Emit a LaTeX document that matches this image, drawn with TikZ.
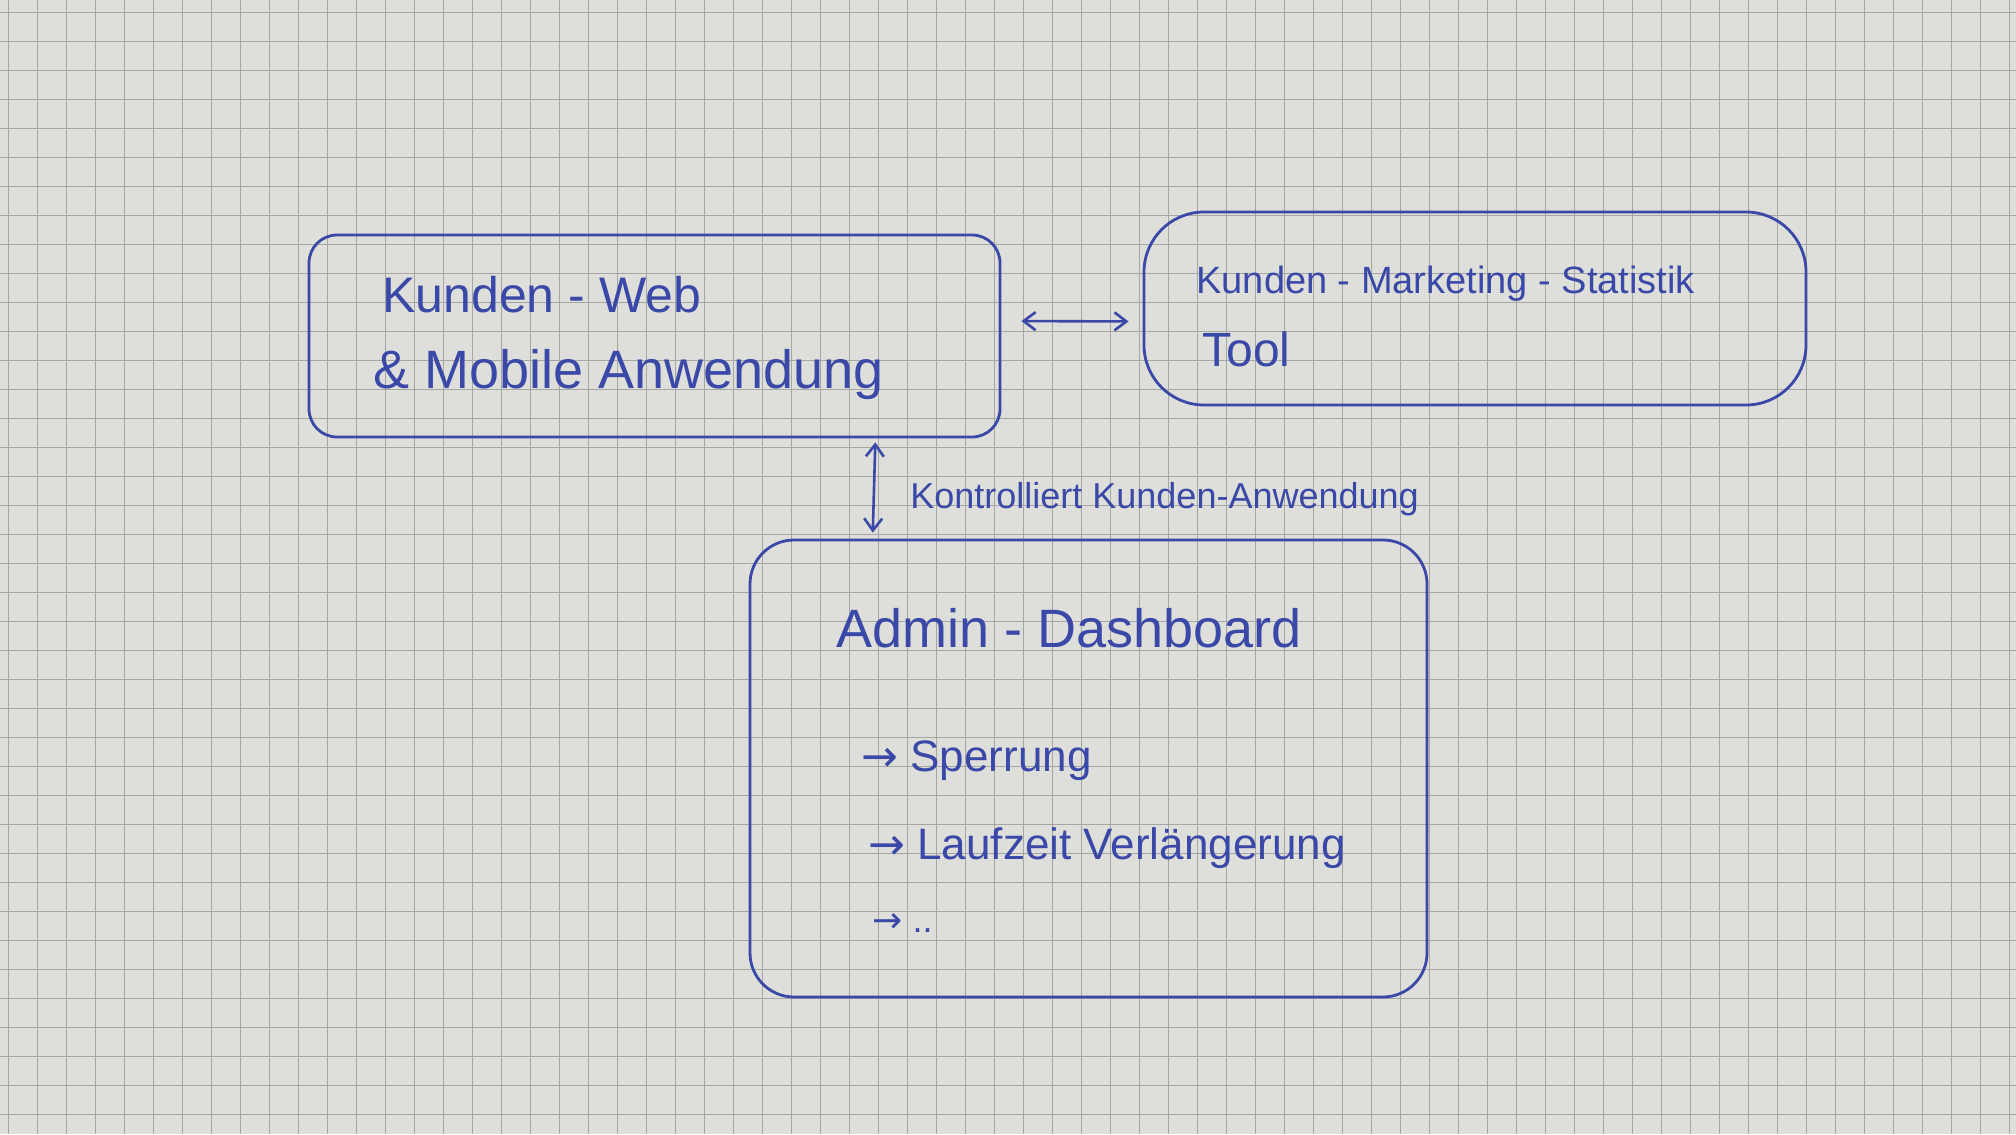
\documentclass[tikz,border=0pt]{standalone}
\usepackage{fontspec}
\setmainfont{Liberation Sans}
\newfontfamily\symfont{DejaVu Sans}
\usetikzlibrary{arrows.meta}
\definecolor{ink}{HTML}{3A48A8}
\definecolor{paper}{HTML}{DEDEDA}
\definecolor{gridc}{HTML}{A6A6A3}
\begin{document}
\begin{tikzpicture}[x=0.5pt,y=-0.5pt,
  inkbox/.style={draw=ink,line width=1.4pt,rounded corners=14pt,inner sep=0pt},
  inktext/.style={text=ink,anchor=base west,inner sep=0pt},
  inkarrow/.style={draw=ink,line width=1.3pt,{Straight Barb[length=6pt,width=9pt]}-{Straight Barb[length=6pt,width=9pt]}},
  gridline/.style={draw=gridc,line width=0.45pt}]
\useasboundingbox (0,0) rectangle (2016,1134);
\fill[paper] (0,0) rectangle (2016,1134);
\foreach \i in {8,37,...,2016} \draw[gridline] (\i,0) -- (\i,1134);
\foreach \j in {12,41,...,1134} \draw[gridline] (0,\j) -- (2016,\j);

% boxes
\node[inkbox,minimum width=345.5pt,minimum height=101pt] (web) at (654.5,336) {};
\node[inkbox,minimum width=331pt,minimum height=96.5pt,rounded corners=30pt] (tool) at (1475,308.5) {};
\node[inkbox,minimum width=338.5pt,minimum height=228.5pt,rounded corners=22pt] (admin) at (1088.5,768.5) {};

% texts
\node[inktext,font=\fontsize{25}{30}\selectfont] (webA) at (382,312) {Kunden - Web};
\node[inktext,font=\fontsize{27}{32}\selectfont] (webB) at (373,388) {\& Mobile Anwendung};
\node[inktext,font=\fontsize{19}{23}\selectfont] (toolA) at (1196,293) {Kunden - Marketing - Statistik};
\node[inktext,font=\fontsize{24}{28}\selectfont] (toolB) at (1202,366) {Tool};
\node[inktext,font=\fontsize{18}{22}\selectfont] (lbl) at (910,508) {Kontrolliert Kunden-Anwendung};
\node[inktext,font=\fontsize{27}{32}\selectfont] (adm) at (836,647) {Admin - Dashboard};
\node[inktext,font=\fontsize{22}{26}\selectfont] (it1) at (861,771) {{\symfont →} Sperrung};
\node[inktext,font=\fontsize{22}{26}\selectfont] (it2) at (868,859) {{\symfont →} Laufzeit Verlängerung};
\node[inktext,font=\fontsize{18}{22}\selectfont] (it3) at (872,932) {{\symfont →} ..};

% connectors
\draw[inkarrow,shorten <=10pt,shorten >=7pt] ([yshift=7.5pt]web.east) -- ([yshift=-6.5pt]tool.west);
\draw[inkarrow,shorten <=2pt,shorten >=3pt] ([xshift=-63pt]web.south east) -- ([xshift=62pt]admin.north west);
\end{tikzpicture}
\end{document}
